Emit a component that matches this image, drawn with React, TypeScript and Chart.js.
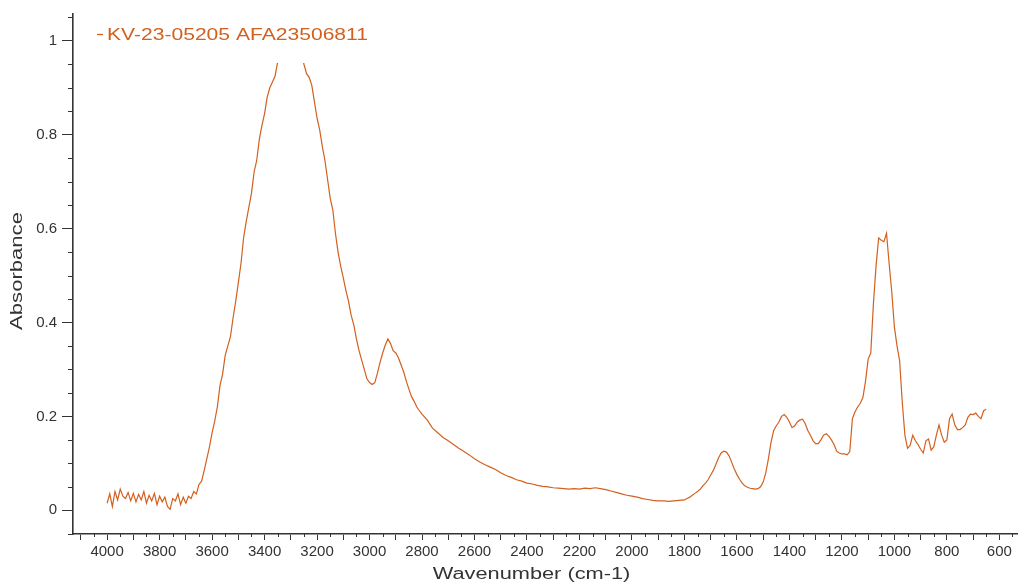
import { useEffect, useRef } from 'react';
import { Chart, registerables } from 'chart.js';

Chart.register(...registerables);

const seriesLabel = 'KV-23-05205 AFA23506811';
const xTitle = 'Wavenumber (cm-1)';
const yTitle = 'Absorbance';

const wavenumbers = [
  4000, 3990, 3980, 3970, 3960, 3950, 3940, 3930, 3920, 3910, 3900, 3890, 3880, 3870, 3860, 3850,
  3840, 3830, 3820, 3810, 3800, 3790, 3780, 3770, 3760, 3750, 3740, 3730, 3720, 3710, 3700, 3690,
  3680, 3670, 3660, 3650, 3640, 3630, 3620, 3610, 3600, 3590, 3580, 3570, 3560, 3550, 3540, 3530,
  3520, 3510, 3500, 3490, 3480, 3470, 3460, 3450, 3440, 3430, 3420, 3410, 3400, 3390, 3380, 3370,
  3360, 3350, 3340, 3320, 3300, 3280, 3260, 3250, 3240, 3230, 3220, 3210, 3200, 3190, 3180, 3170,
  3160, 3150, 3140, 3130, 3120, 3110, 3100, 3090, 3080, 3070, 3060, 3050, 3040, 3030, 3020, 3010,
  3000, 2990, 2980, 2970, 2960, 2950, 2940, 2930, 2920, 2910, 2900, 2890, 2880, 2870, 2860, 2850,
  2840, 2830, 2820, 2810, 2800, 2780, 2760, 2740, 2720, 2700, 2680, 2660, 2640, 2620, 2600, 2580,
  2560, 2540, 2520, 2500, 2480, 2460, 2440, 2420, 2400, 2380, 2360, 2340, 2320, 2300, 2280, 2260,
  2240, 2220, 2200, 2180, 2160, 2140, 2120, 2100, 2080, 2060, 2040, 2020, 2000, 1980, 1960, 1940,
  1920, 1900, 1880, 1860, 1840, 1820, 1800, 1790, 1780, 1770, 1760, 1750, 1740, 1730, 1720, 1710,
  1700, 1690, 1680, 1670, 1660, 1650, 1640, 1630, 1620, 1610, 1600, 1590, 1580, 1570, 1560, 1550,
  1540, 1530, 1520, 1510, 1500, 1490, 1480, 1470, 1460, 1450, 1440, 1430, 1420, 1410, 1400, 1390,
  1380, 1370, 1360, 1350, 1340, 1330, 1320, 1310, 1300, 1290, 1280, 1270, 1260, 1250, 1240, 1230,
  1220, 1210, 1200, 1190, 1180, 1170, 1160, 1150, 1140, 1130, 1120, 1110, 1100, 1090, 1080, 1070,
  1060, 1050, 1040, 1030, 1020, 1010, 1000, 990, 980, 970, 960, 950, 940, 930, 920, 910,
  900, 890, 880, 870, 860, 850, 840, 830, 820, 810, 800, 790, 780, 770, 760, 750,
  740, 730, 720, 710, 700, 690, 680, 670, 660, 650,
];

const absorbance = [
  0.015, 0.035, 0.008, 0.040, 0.022, 0.045, 0.030, 0.025, 0.038, 0.020, 0.036, 0.018, 0.034, 0.022, 0.040, 0.015,
  0.032, 0.020, 0.036, 0.012, 0.030, 0.018, 0.028, 0.008, 0.002, 0.025, 0.020, 0.035, 0.012, 0.028, 0.015, 0.030,
  0.025, 0.040, 0.035, 0.055, 0.062, 0.085, 0.110, 0.135, 0.165, 0.190, 0.220, 0.265, 0.290, 0.330, 0.350, 0.370,
  0.410, 0.445, 0.485, 0.525, 0.580, 0.615, 0.645, 0.675, 0.720, 0.745, 0.790, 0.820, 0.845, 0.880, 0.900, 0.912,
  0.925, 0.955, 0.975, 1.000, 1.010, 1.000, 0.975, 0.950, 0.930, 0.922, 0.905, 0.870, 0.835, 0.810, 0.775, 0.745,
  0.705, 0.665, 0.640, 0.590, 0.550, 0.520, 0.495, 0.468, 0.445, 0.415, 0.395, 0.365, 0.340, 0.320, 0.300, 0.280,
  0.272, 0.268, 0.272, 0.292, 0.315, 0.335, 0.352, 0.365, 0.355, 0.340, 0.335, 0.325, 0.310, 0.295, 0.275, 0.258,
  0.242, 0.232, 0.220, 0.212, 0.205, 0.192, 0.175, 0.165, 0.155, 0.148, 0.140, 0.132, 0.125, 0.118, 0.110, 0.103,
  0.097, 0.092, 0.087, 0.080, 0.074, 0.070, 0.065, 0.062, 0.058, 0.056, 0.053, 0.051, 0.050, 0.048, 0.047, 0.046,
  0.045, 0.046, 0.045, 0.047, 0.046, 0.048, 0.046, 0.044, 0.041, 0.038, 0.035, 0.032, 0.030, 0.028, 0.025, 0.023,
  0.021, 0.020, 0.020, 0.019, 0.020, 0.021, 0.022, 0.025, 0.028, 0.032, 0.036, 0.040, 0.045, 0.052, 0.058, 0.065,
  0.075, 0.085, 0.098, 0.112, 0.122, 0.126, 0.124, 0.116, 0.102, 0.088, 0.076, 0.066, 0.058, 0.052, 0.049, 0.047,
  0.046, 0.045, 0.046, 0.050, 0.060, 0.080, 0.110, 0.145, 0.170, 0.180, 0.188, 0.200, 0.204, 0.198, 0.188, 0.176,
  0.180, 0.188, 0.192, 0.194, 0.185, 0.170, 0.160, 0.148, 0.142, 0.142, 0.150, 0.160, 0.163, 0.158, 0.150, 0.140,
  0.126, 0.122, 0.120, 0.120, 0.118, 0.125, 0.195, 0.210, 0.220, 0.228, 0.240, 0.275, 0.322, 0.335, 0.440, 0.520,
  0.580, 0.575, 0.572, 0.590, 0.525, 0.465, 0.390, 0.350, 0.318, 0.230, 0.160, 0.132, 0.138, 0.160, 0.148, 0.140,
  0.130, 0.122, 0.148, 0.152, 0.128, 0.135, 0.160, 0.182, 0.160, 0.145, 0.150, 0.195, 0.205, 0.182, 0.172, 0.172,
  0.176, 0.182, 0.198, 0.205, 0.204, 0.207, 0.200, 0.195, 0.212, 0.215,
];

const xMajorTicks = [4100, 4000, 3900, 3800, 3700, 3600, 3500, 3400, 3300, 3200, 3100, 3000, 2900, 2800, 2700, 2600, 2500, 2400, 2300, 2200, 2100, 2000, 1900, 1800, 1700, 1600, 1500, 1400, 1300, 1200, 1100, 1000, 900, 800, 700, 600];
const xLabelledTicks = [4000, 3800, 3600, 3400, 3200, 3000, 2800, 2600, 2400, 2200, 2000, 1800, 1600, 1400, 1200, 1000, 800, 600];
const yTicks = [0, 0.2, 0.4, 0.6, 0.8, 1];
const yTickLabels = ['0', '0.2', '0.4', '0.6', '0.8', '1'];

const X_MIN = 529;
const X_MAX = 4130;
const Y_MIN = -0.0505;
const Y_MAX = 1.057;

const LINE_COLOR = '#d2601f';
const AXIS_COLOR = '#333333';
const TEXT_COLOR = '#333333';
const FONT = '"Liberation Sans", Arial, sans-serif';

export default function App() {
  const canvasRef = useRef<HTMLCanvasElement | null>(null);

  useEffect(() => {
    if (!canvasRef.current) return;
    const points = wavenumbers.map((w, i) => ({ x: w, y: absorbance[i] }));

    const minorTicks = {
      id: 'minorTicks',
      afterDraw(chart: any) {
        const { ctx } = chart;
        const xs = chart.scales.x;
        const ys = chart.scales.y;
        ctx.save();
        ctx.strokeStyle = AXIS_COLOR;
        ctx.lineWidth = 1;
        for (let v = 550; v <= 4100; v += 100) {
          const px = Math.round(xs.getPixelForValue(v)) + 0.5;
          ctx.beginPath();
          ctx.moveTo(px, xs.top);
          ctx.lineTo(px, xs.top + 3);
          ctx.stroke();
        }
        for (let k = -1; k <= 21; k++) {
          if (k % 4 === 0) continue;
          const v = k * 0.05;
          const py = Math.round(ys.getPixelForValue(v)) + 0.5;
          ctx.beginPath();
          ctx.moveTo(ys.right - 5, py);
          ctx.lineTo(ys.right, py);
          ctx.stroke();
        }
        ctx.restore();
      },
    };

    const titles = {
      id: 'titles',
      afterDraw(chart: any) {
        const { ctx } = chart;
        const xs = chart.scales.x;
        const ys = chart.scales.y;
        ctx.save();
        ctx.fillStyle = TEXT_COLOR;
        ctx.textAlign = 'center';
        ctx.textBaseline = 'middle';
        ctx.font = '16px ' + FONT;
        ctx.save();
        ctx.translate((xs.left + xs.right) / 2 - 14, xs.bottom - 12);
        ctx.scale(1.36, 1);
        ctx.fillText(xTitle, 0, 0);
        ctx.restore();
        ctx.save();
        ctx.translate(18, (ys.top + ys.bottom) / 2 - 3);
        ctx.rotate(-Math.PI / 2);
        ctx.scale(1.38, 1);
        ctx.fillText(yTitle, 0, 0);
        ctx.restore();
        ctx.restore();
      },
    };

    const legendBox = {
      id: 'legendBox',
      afterDatasetsDraw(chart: any) {
        const { ctx, chartArea } = chart;
        ctx.save();
        ctx.fillStyle = '#ffffff';
        ctx.fillRect(chartArea.left + 12, chartArea.top + 2, 300, 47);
        const y = 34;
        ctx.strokeStyle = LINE_COLOR;
        ctx.lineWidth = 1.3;
        ctx.beginPath();
        ctx.moveTo(97, y + 0.5);
        ctx.lineTo(103, y + 0.5);
        ctx.stroke();
        ctx.fillStyle = LINE_COLOR;
        ctx.font = '17px ' + FONT;
        ctx.textBaseline = 'middle';
        ctx.textAlign = 'left';
        ctx.translate(107, y + 1);
        ctx.scale(1.24, 1);
        ctx.fillText(seriesLabel, 0, 0);
        ctx.restore();
      },
    };

    const chart = new Chart(canvasRef.current, {
      type: 'line',
      data: {
        datasets: [
          {
            label: seriesLabel,
            data: points,
            borderColor: LINE_COLOR,
            borderWidth: 1.2,
            pointRadius: 0,
            tension: 0,
            fill: false,
          },
        ],
      },
      options: {
        animation: false,
        responsive: true,
        maintainAspectRatio: false,
        layout: { padding: { top: 8, right: 0, left: 0, bottom: 0 } },
        plugins: {
          legend: { display: false },
          tooltip: { enabled: false },
        },
        scales: {
          x: {
            type: 'linear',
            reverse: true,
            min: X_MIN,
            max: X_MAX,
            afterBuildTicks: (scale: any) => {
              scale.ticks = xMajorTicks.map((v) => ({ value: v }));
            },
            afterFit: (scale: any) => {
              scale.height = 53;
            },
            ticks: {
              autoSkip: false,
              maxRotation: 0,
              minRotation: 0,
              padding: 3,
              color: TEXT_COLOR,
              font: { family: FONT, size: 15 },
              callback: (v: any) => (xLabelledTicks.includes(Number(v)) ? String(v) : ''),
            },
            grid: {
              display: true,
              drawOnChartArea: false,
              drawTicks: true,
              tickLength: 6,
              color: AXIS_COLOR,
            },
            border: { display: true, color: AXIS_COLOR, width: 1.6 },
            title: { display: false },
          },
          y: {
            type: 'linear',
            min: Y_MIN,
            max: Y_MAX,
            afterBuildTicks: (scale: any) => {
              scale.ticks = yTicks.map((v) => ({ value: v }));
            },
            afterFit: (scale: any) => {
              scale.width = 73;
            },
            ticks: {
              autoSkip: false,
              padding: 5,
              color: TEXT_COLOR,
              font: { family: FONT, size: 15 },
              callback: (v: any) => {
                const i = yTicks.findIndex((t) => Math.abs(t - Number(v)) < 1e-9);
                return i >= 0 ? yTickLabels[i] : '';
              },
            },
            grid: {
              display: true,
              drawOnChartArea: false,
              drawTicks: true,
              tickLength: 11,
              color: AXIS_COLOR,
            },
            border: { display: true, color: AXIS_COLOR, width: 1.6 },
            title: { display: false },
          },
        },
      },
      plugins: [legendBox, minorTicks, titles],
    });

    return () => {
      chart.destroy();
    };
  }, []);

  return (
    <div style={{ position: 'absolute', left: 0, top: 0, width: 1018, height: 587 }}>
      <canvas ref={canvasRef} />
    </div>
  );
}
